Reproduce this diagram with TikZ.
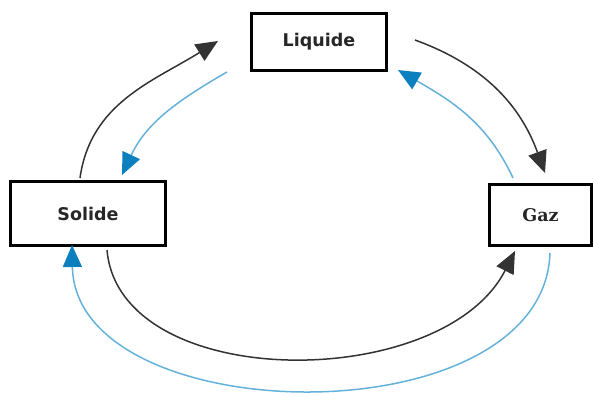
\documentclass[tikz,border=0pt]{standalone}
\usepackage{fontspec}
\setmainfont{DejaVu Sans}
\newfontfamily\gazfont{DejaVu Serif}
\usetikzlibrary{arrows.meta,calc}

\definecolor{bleu}{RGB}{100,178,218}
\definecolor{bleufonce}{RGB}{12,128,190}

\begin{document}
\begin{tikzpicture}[x=1pt,y=1pt,>={Triangle[length=22pt,width=19pt]},
    etat/.style={draw, line width=3pt, inner sep=0pt, text=black!85,
      font=\fontsize{17.5}{20}\selectfont\bfseries},
    chauffe/.style={->, draw=black!80, line width=1.5pt},
    refroid/.style={-{Triangle[length=22pt,width=19pt,color=bleufonce]},
      draw=bleu, line width=1.5pt}]

          \useasboundingbox (0,0) rectangle (594,392);

          \node[etat, minimum width=135pt, minimum height=57pt] (liquide) at (319,350) {Liquide};
          \node[etat, minimum width=155pt, minimum height=64pt] (solide) at (88,178.5) {Solide};
          \node[etat, minimum width=102pt, minimum height=61pt] (gaz) at (540.5,177) {\gazfont Gaz};

          % chauffage
          \path
          ($(solide.north)+(-8,2)$) edge [chauffe, out=82, in=212] ($(liquide.west)+(-32,1)$)
          ($(liquide.east)+(27,2)$) edge [chauffe, out=-20, in=110] ($(gaz.north)+(4.5,10)$)
          ($(solide.south)+(19,-3)$) edge [chauffe, out=-85, in=-117, out looseness=0.9, in looseness=1.0] ($(gaz.south)+(-25.5,-4)$)
          ;

          % refroidissement
          \path
          ($(liquide.south west)+(-23,0)$) edge [refroid, out=210, in=65] ($(solide.north)+(34,5)$)
          ($(gaz.north)+(-27.5,5)$) edge [refroid, out=115, in=-30] ($(liquide.south east)+(10,2)$)
          ($(gaz.south)+(9.5,-6)$) edge [refroid, out=-92, in=-89, looseness=1.0] ($(solide.south)+(-16,2)$)
          ;
        \end{tikzpicture}
\end{document}
